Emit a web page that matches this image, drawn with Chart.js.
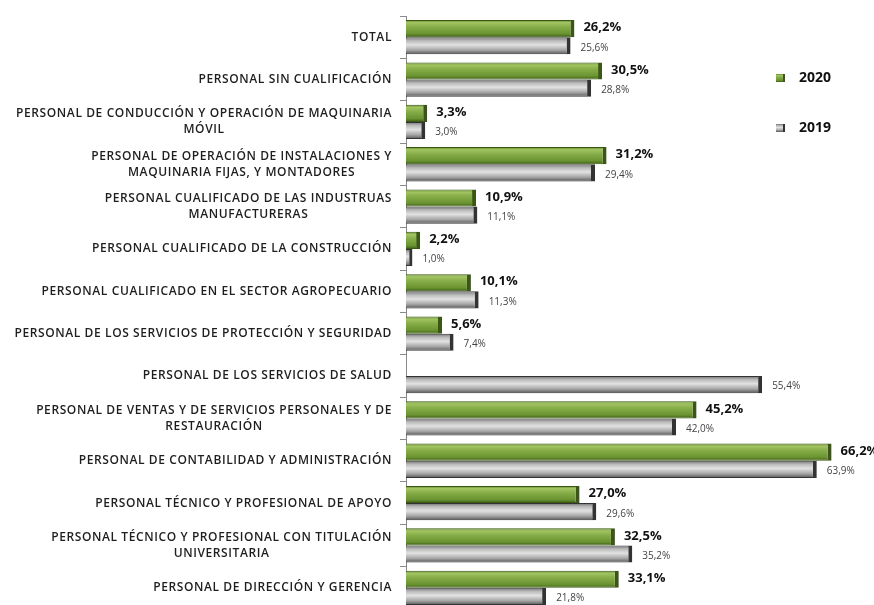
<!DOCTYPE html>
<html lang="es">
<head>
  <meta charset="UTF-8">
  <title>Personal por ocupación 2020 - 2019</title>
  <script src="https://cdn.jsdelivr.net/npm/chart.js"></script>
  <style>
    body { margin: 0; background: #fff; overflow: hidden; }
    .chart-container { position: relative; width: 874px; height: 609px; }
  </style>
</head>
<body>
  <div class="chart-container">
    <canvas id="chart"></canvas>
  </div>

  <script>
    // categorías (con saltos de línea como en el original)
    const categories = [
      ["TOTAL"],
      ["PERSONAL SIN CUALIFICACIÓN"],
      ["PERSONAL DE CONDUCCIÓN Y OPERACIÓN DE MAQUINARIA", "MÓVIL"],
      ["PERSONAL DE OPERACIÓN DE INSTALACIONES Y", "MAQUINARIA FIJAS, Y MONTADORES"],
      ["PERSONAL CUALIFICADO DE LAS INDUSTRUAS", "MANUFACTURERAS"],
      ["PERSONAL CUALIFICADO DE LA CONSTRUCCIÓN"],
      ["PERSONAL CUALIFICADO EN EL SECTOR AGROPECUARIO"],
      ["PERSONAL DE LOS SERVICIOS DE PROTECCIÓN Y SEGURIDAD"],
      ["PERSONAL DE LOS SERVICIOS DE SALUD"],
      ["PERSONAL DE VENTAS Y DE SERVICIOS PERSONALES Y DE", "RESTAURACIÓN"],
      ["PERSONAL DE CONTABILIDAD Y ADMINISTRACIÓN"],
      ["PERSONAL TÉCNICO Y PROFESIONAL DE APOYO"],
      ["PERSONAL TÉCNICO Y PROFESIONAL CON TITULACIÓN", "UNIVERSITARIA"],
      ["PERSONAL DE DIRECCIÓN Y GERENCIA"]
    ];
    const values2020 = [26.2, 30.5, 3.3, 31.2, 10.9, 2.2, 10.1, 5.6, null, 45.2, 66.2, 27.0, 32.5, 33.1];
    const values2019 = [25.6, 28.8, 3.0, 29.4, 11.1, 1.0, 11.3, 7.4, 55.4, 42.0, 63.9, 29.6, 35.2, 21.8];
    const seriesLabels = ["2020", "2019"];

    const FONT = "'Open Sans', sans-serif";

    function barGradient(ctx, top, bottom, stops) {
      const g = ctx.createLinearGradient(0, top, 0, bottom);
      stops.forEach(s => g.addColorStop(s[0], s[1]));
      return g;
    }
    const greenStops = [[0, '#5c8526'], [0.15, '#a3c463'], [0.4, '#86ad48'], [0.8, '#6a9331'], [1, '#3c5c14']];
    const grayStops = [[0, '#6e6e6e'], [0.2, '#b9b9b9'], [0.45, '#e2e2e2'], [0.75, '#a6a6a6'], [1, '#555555']];

    // degradado vertical de cada barra
    const bevelPlugin = {
      id: 'bevel',
      beforeDatasetsDraw(chart) {
        const ctx = chart.ctx;
        chart.data.datasets.forEach((ds, di) => {
          const meta = chart.getDatasetMeta(di);
          meta.data.forEach(el => {
            const top = el.y - el.height / 2, bottom = el.y + el.height / 2;
            el.options = Object.assign({}, el.options, {
              backgroundColor: barGradient(ctx, top, bottom, di === 0 ? greenStops : grayStops)
            });
          });
        });
      }
    };

    // etiquetas de valores
    const valueLabels = {
      id: 'valueLabels',
      afterDatasetsDraw(chart) {
        const ctx = chart.ctx;
        ctx.save();
        ctx.textBaseline = 'middle';
        ctx.textAlign = 'left';
        chart.data.datasets.forEach((ds, di) => {
          const meta = chart.getDatasetMeta(di);
          meta.data.forEach((el, i) => {
            const v = ds.data[i];
            if (v === null || v === undefined) return;
            const txt = v.toFixed(1).replace('.', ',') + '%';
            if (di === 0) {
              ctx.font = "bold 13px " + FONT;
              ctx.fillStyle = '#111';
              ctx.fillText(txt, el.x + 9, el.y - 1);
            } else {
              ctx.font = "10px " + FONT;
              ctx.fillStyle = '#444';
              ctx.fillText(txt, el.x + 10, el.y + 2);
            }
          });
        });
        ctx.restore();
      }
    };

    // etiquetas de categoría centradas por línea, alineadas a la derecha
    const catLabels = {
      id: 'catLabels',
      afterDraw(chart) {
        const ctx = chart.ctx;
        const y = chart.scales.y;
        const right = y.right - 6 - 8;
        const lh = 16;
        ctx.save();
        ctx.font = "600 12px " + FONT;
        ctx.letterSpacing = '0.6px';
        ctx.fillStyle = '#1e1e1e';
        ctx.textBaseline = 'middle';
        ctx.textAlign = 'center';
        categories.forEach((lines, i) => {
          const cy = y.getPixelForValue(i);
          const w = Math.max(...lines.map(l => ctx.measureText(l).width));
          const cx = right - w / 2;
          const y0 = cy - (lines.length - 1) * lh / 2;
          lines.forEach((l, k) => ctx.fillText(l, cx, y0 + k * lh));
        });
        ctx.restore();
      }
    };

    // leyenda a la derecha
    const sideLegend = {
      id: 'sideLegend',
      afterDraw(chart) {
        const ctx = chart.ctx;
        const items = [[78, greenStops, '#3c5c14'], [128, grayStops, '#333']];
        ctx.save();
        ctx.font = "bold 14px " + FONT;
        ctx.textBaseline = 'middle';
        ctx.textAlign = 'left';
        items.forEach((it, k) => {
          const cy = it[0];
          ctx.fillStyle = barGradient(ctx, cy - 4, cy + 4, it[1]);
          ctx.fillRect(776, cy - 4, 8, 8);
          ctx.fillStyle = it[2];
          ctx.fillRect(783, cy - 4, 2, 8);
          ctx.fillStyle = '#111';
          ctx.fillText(seriesLabels[k], 799, cy);
        });
        ctx.restore();
      }
    };

    const ctx = document.getElementById("chart").getContext("2d");
    new Chart(ctx, {
      type: "bar",
      data: {
        labels: categories,
        datasets: [
          {
            label: seriesLabels[0],
            data: values2020,
            backgroundColor: '#77a03a',
            borderColor: '#3a5812',
            borderWidth: { top: 1, bottom: 1, left: 0, right: 4 },
            borderSkipped: false,
            categoryPercentage: 0.81,
            barPercentage: 1.0
          },
          {
            label: seriesLabels[1],
            data: values2019,
            backgroundColor: '#b0b0b0',
            borderColor: '#333333',
            borderWidth: { top: 1, bottom: 1, left: 0, right: 4 },
            borderSkipped: false,
            categoryPercentage: 0.81,
            barPercentage: 1.0
          }
        ]
      },
      options: {
        indexAxis: 'y',
        responsive: true,
        maintainAspectRatio: false,
        animation: false,
        layout: { padding: { top: 16, right: 18, left: 0, bottom: 0 } },
        plugins: {
          legend: { display: false },
          tooltip: { enabled: false }
        },
        scales: {
          x: {
            display: false,
            min: 0,
            max: 70
          },
          y: {
            afterFit: s => { s.width = 406; },
            border: { display: true, color: '#8a8a8a', width: 1 },
            grid: {
              display: true,
              offset: true,
              drawOnChartArea: false,
              drawTicks: true,
              tickLength: 6,
              color: '#8a8a8a'
            },
            ticks: { display: false }
          }
        }
      },
      plugins: [bevelPlugin, valueLabels, catLabels, sideLegend]
    });
  </script>
</body>
</html>
